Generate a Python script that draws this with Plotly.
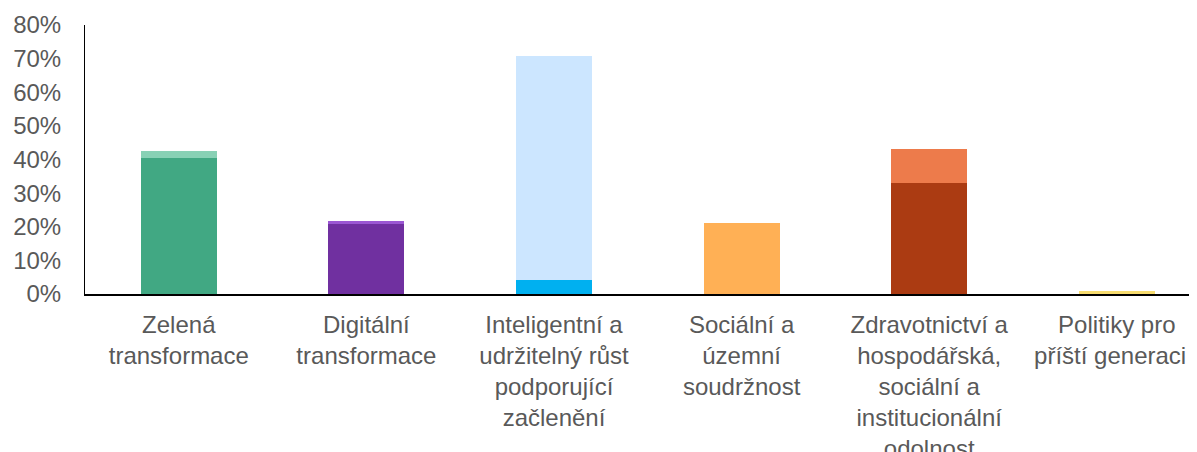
import plotly.graph_objects as go

categories = [
    "Zelená<br>transformace",
    "Digitální<br>transformace",
    "Inteligentní a<br>udržitelný růst<br>podporující<br>začlenění",
    "Sociální a<br>územní<br>soudržnost",
    "Zdravotnictví a<br>hospodářská,<br>sociální a<br>institucionální<br>odolnost",
    "Politiky pro<br>příští generaci&nbsp;&nbsp;",
]
base_values = [40.4, 20.8, 4.2, 21.2, 33.0, 0.9]
top_values = [2.1, 0.9, 66.6, 0.0, 10.1, 0.0]
base_colors = ["#41A883", "#7030A0", "#00B0F0", "#FFB055", "#AB3B12", "#F7DC6F"]
top_colors = ["#88D1B5", "#9B57D3", "#CCE6FF", "#FFB055", "#ED7B4B", "#F7DC6F"]
y_ticks = [0, 10, 20, 30, 40, 50, 60, 70, 80]
y_tick_labels = ["0%", "10%", "20%", "30%", "40%", "50%", "60%", "70%", "80%"]

x_idx = list(range(len(categories)))

fig = go.Figure()
fig.add_trace(go.Bar(x=x_idx, y=base_values, marker=dict(color=base_colors, line=dict(width=0)),
                     width=0.405, showlegend=False))
fig.add_trace(go.Bar(x=x_idx, y=top_values, marker=dict(color=top_colors, line=dict(width=0)),
                     width=0.405, showlegend=False))

font = "Arial, Liberation Sans, sans-serif"
fig.update_layout(
    barmode="stack",
    width=1197, height=452,
    margin=dict(l=77, r=8, t=17, b=166, autoexpand=False),
    paper_bgcolor="white", plot_bgcolor="white",
    font=dict(family=font, size=24, color="#595959"),
    xaxis=dict(
        tickmode="array", tickvals=x_idx, ticktext=categories,
        range=[-0.5, -0.5 + 1112 / 187.6],
        showline=True, linecolor="black", linewidth=1.5,
        showgrid=False, zeroline=False, ticks="",
        ticklabelstandoff=8, automargin=False,
        tickfont=dict(family=font, size=24, color="#595959"),
        tickangle=0,
    ),
    yaxis=dict(
        range=[0, 80], tickmode="array", tickvals=y_ticks, ticktext=y_tick_labels,
        showline=True, linecolor="black", linewidth=1,
        showgrid=False, zeroline=False, ticks="",
        ticklabelstandoff=18, automargin=False,
        tickfont=dict(family=font, size=24, color="#595959"),
    ),
)

fig.write_html("out.html")
